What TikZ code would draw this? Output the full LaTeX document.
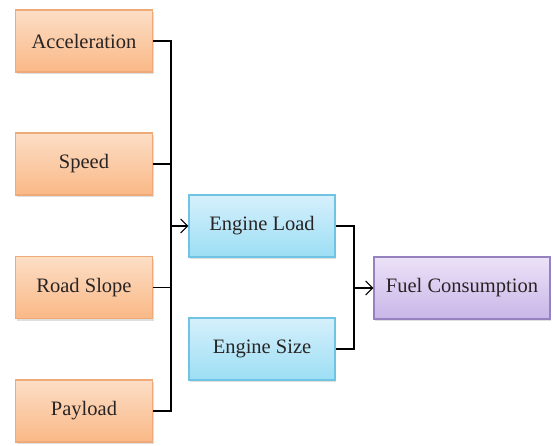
\documentclass[tikz,border=0pt]{standalone}
\usepackage{fontspec}
\newfontfamily\timesfont{Liberation Serif}
\usetikzlibrary{arrows.meta,shadows}

\definecolor{orangetop}{RGB}{252,222,198}
\definecolor{orangebot}{RGB}{250,184,134}
\definecolor{orangeline}{RGB}{238,170,120}
\definecolor{bluetop}{RGB}{214,240,252}
\definecolor{bluebot}{RGB}{156,222,244}
\definecolor{blueline}{RGB}{110,196,226}
\definecolor{purpletop}{RGB}{236,226,248}
\definecolor{purplebot}{RGB}{200,182,232}
\definecolor{purpleline}{RGB}{150,130,190}
\definecolor{textgray}{RGB}{40,36,36}

\begin{document}
\begin{tikzpicture}[x=1pt,y=1pt,>={Straight Barb[length=7pt,width=14pt]},
                    line width=1.1pt,font=\timesfont\fontsize{20.5}{24}\selectfont,text=textgray]
  \tikzstyle{factor}=[draw=orangeline,top color=orangetop,bottom color=orangebot,
                      minimum width=137pt,minimum height=62pt,
                      drop shadow={opacity=0.25,shadow xshift=1pt,shadow yshift=-2pt}]
  \tikzstyle{engine}=[factor,draw=blueline,top color=bluetop,bottom color=bluebot,
                      minimum width=146pt]
  \tikzstyle{result}=[factor,draw=purpleline,top color=purpletop,bottom color=purplebot,
                      minimum width=176pt]
  \useasboundingbox (0,0) rectangle (553,445);

  \node[factor] (acc)   at (84,404)   {Acceleration};
  \node[factor] (spd)   at (84,281)   {Speed};
  \node[factor] (slope) at (84,157.5) {Road Slope};
  \node[factor] (pay)   at (84,34)    {Payload};

  \node[engine] (load)  at (262,219)  {Engine Load};
  \node[engine] (size)  at (262,96)   {Engine Size};

  \node[result] (fuel)  at (462,157)  {Fuel Consumption};

  \coordinate (busA) at (171,219);
  \coordinate (busB) at (354,157);

  % first level
  \draw (acc.east) -| (busA) |- (pay.east);
  \draw (spd.east) -- (spd.east -| busA);
  \draw (slope.east) -- (slope.east -| busA);
  \draw[->] (busA) -- (load.west);

  % second level
  \draw (load.east) -| (busB) |- (size.east);
  \draw[->] (busB) -- (fuel.west);
\end{tikzpicture}
\end{document}
